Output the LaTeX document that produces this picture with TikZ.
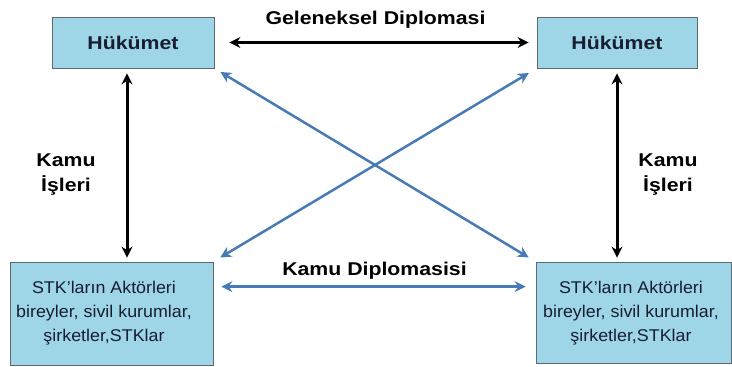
\documentclass[tikz,border=0pt]{standalone}
\usepackage{fontspec}
\setmainfont[FakeStretch=1.05]{Liberation Sans}
\newfontfamily\genis[FakeStretch=1.15]{Liberation Sans}
\usetikzlibrary{arrows.meta}
\definecolor{acikmavi}{RGB}{158,214,232}
\definecolor{celikmavi}{RGB}{72,122,182}
\definecolor{kenar}{RGB}{95,105,115}
\definecolor{koyu}{RGB}{22,30,48}
\tikzstyle{sema}=[
    kutu/.style={rectangle, draw=kenar, fill=acikmavi, line width=0.8pt, inner sep=0pt},
    hukumet/.style={kutu, minimum height=51pt, text=koyu,
        font={\genis\fontsize{18.5}{22}\selectfont\bfseries}},
    stkkutu/.style={kutu},
    stkyazi/.style={align=center, text=koyu, inner sep=0pt,
        font={\fontsize{17}{24}\selectfont}},
    etiket/.style={align=center, inner sep=0pt, text=black,
        font={\genis\fontsize{18.5}{25}\selectfont\bfseries}},
    siyahok/.style={black, line width=3pt, {Stealth[length=11pt,width=11pt]}-{Stealth[length=11pt,width=11pt]}},
    maviok/.style={celikmavi, line width=2.5pt, {Stealth[length=11pt,width=11pt]}-{Stealth[length=11pt,width=11pt]}},
]

\begin{document}
\begin{tikzpicture}[sema, x=1pt, y=-1pt]
\useasboundingbox (0,0) rectangle (732,367);

    % kutular
    \node[hukumet, minimum width=162pt] (hukL) at (133,42.5) {Hükümet};
    \node[hukumet, minimum width=160pt] (hukR) at (617,42.5) {Hükümet};
    \node[stkkutu, minimum width=203pt, minimum height=103pt] (stkL) at (111.5,313.5) {};
    \node[stkkutu, minimum width=195pt, minimum height=101pt] (stkR) at (633.5,312.5) {};
    \node[stkyazi] (stkLyazi) at (104,313.5) {STK'ların Aktörleri\\bireyler, sivil kurumlar,\\şirketler,STKlar};
    \node[stkyazi] (stkRyazi) at (631,313.5) {STK'ların Aktörleri\\bireyler, sivil kurumlar,\\şirketler,STKlar};

    % oklar
    \draw[siyahok, shorten <=15pt, shorten >=8pt] (hukL.east) -- (hukR.west)
        node[midway, etiket, anchor=base, yshift=18pt] (geleneksel) {Geleneksel Diplomasi};
    \draw[siyahok, shorten <=5pt, shorten >=4pt] ([xshift=-6pt]hukL.south) -- ([xshift=-6pt]hukL.south |- stkL.north);
    \draw[siyahok, shorten <=5pt, shorten >=4pt] (hukR.south) -- (hukR.south |- stkR.north);
    \draw[maviok, shorten <=8pt, shorten >=10pt] ([yshift=-25pt]stkL.north east) -- ([yshift=-25pt]stkL.north east -| stkR.west)
        node[midway, etiket, anchor=base, yshift=11pt] (kamudip) {Kamu Diplomasisi};
    \draw[maviok, shorten <=7pt, shorten >=8pt] (hukL.south east) -- (stkR.north west);
    \draw[maviok, shorten <=9pt, shorten >=8pt] (hukR.south west) -- (stkL.north east);

    % etiketler
    \node[etiket] (islerL) at (66,175) {Kamu\\İşleri};
    \node[etiket] (islerR) at (668,175) {Kamu\\İşleri};

\end{tikzpicture}
\end{document}
